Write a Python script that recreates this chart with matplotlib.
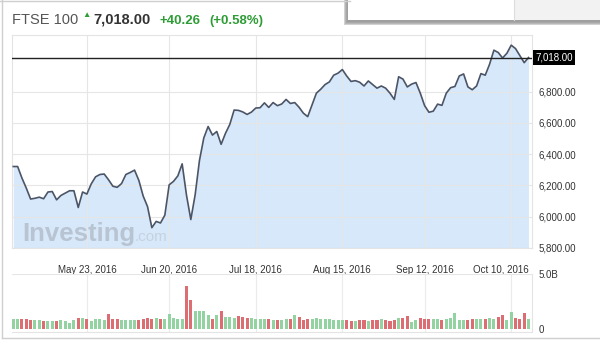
import numpy as np
import pandas as pd
import matplotlib
matplotlib.use("Agg")
import matplotlib.pyplot as plt
import matplotlib.transforms as mtransforms
from matplotlib.patches import Rectangle

plt.rcParams['font.family'] = ['Liberation Sans', 'DejaVu Sans']

# trading days (UK holidays removed)
days = pd.bdate_range('2016-04-27', '2016-10-14')
days = days.drop(pd.to_datetime(['2016-05-02', '2016-05-30', '2016-08-29']))

# FTSE 100 close
close = [6321, 6321, 6247, 6183, 6113, 6118, 6125, 6115, 6158, 6161,
         6108, 6136, 6151, 6166, 6166, 6059, 6158, 6145, 6210, 6255,
         6270, 6273, 6236, 6195, 6188, 6212, 6270, 6283, 6298, 6232,
         6132, 6065, 5930, 5970, 5960, 6010, 6204, 6226, 6261, 6338,
         6138, 5982, 6140, 6360, 6504, 6577, 6522, 6545, 6463, 6533,
         6590, 6682, 6680, 6670, 6654, 6669, 6695, 6697, 6728, 6699,
         6730, 6710, 6721, 6750, 6724, 6730, 6700, 6662, 6640, 6715,
         6790, 6815, 6845, 6862, 6905, 6918, 6941, 6900, 6865, 6870,
         6860, 6836, 6868, 6845, 6822, 6836, 6822, 6790, 6750, 6895,
         6880, 6830, 6848, 6858, 6790, 6710, 6668, 6675, 6720, 6712,
         6790, 6825, 6833, 6900, 6913, 6830, 6812, 6836, 6915, 6905,
         6975, 7065, 7050, 7015, 7045, 7097, 7075, 7030, 6985, 7018]

# volume in billions
volume = [0.88, 0.94, 0.94, 0.88, 0.82, 0.82, 0.82, 0.75, 0.72, 0.75,
          0.69, 0.78, 0.69, 0.55, 0.85, 0.97, 1.00, 0.88, 0.75, 0.90,
          0.90, 0.82, 1.40, 0.94, 0.94, 0.80, 0.80, 0.80, 0.80, 0.85,
          0.94, 1.00, 0.94, 1.00, 0.90, 0.94, 1.35, 1.00, 0.90, 0.94,
          3.90, 2.60, 1.67, 1.65, 1.67, 1.26, 0.88, 1.23, 1.67, 1.13,
          1.07, 1.04, 1.20, 1.10, 1.04, 0.97, 0.94, 0.88, 0.88, 0.91,
          0.82, 0.82, 0.82, 0.91, 0.91, 1.29, 1.07, 0.85, 0.88, 0.88,
          1.04, 0.94, 0.94, 0.88, 0.82, 0.85, 0.82, 0.79, 0.69, 0.75,
          0.79, 0.82, 0.75, 0.82, 0.79, 0.88, 0.82, 0.69, 0.82, 1.00,
          1.04, 1.16, 0.63, 0.82, 1.00, 0.88, 0.88, 0.91, 0.91, 0.82,
          0.94, 1.00, 1.45, 0.82, 0.82, 0.82, 0.88, 0.94, 0.91, 0.94,
          1.00, 0.94, 1.10, 1.23, 0.78, 1.54, 1.04, 0.88, 1.45, 0.91]

tick_dates = ['2016-05-23', '2016-06-20', '2016-07-18', '2016-08-15', '2016-09-12', '2016-10-10']
price_ticks = [5800, 6000, 6200, 6400, 6600, 6800]
last = 7018.00

x = np.arange(len(close))
tick_pos = [days.get_loc(pd.Timestamp(d)) for d in tick_dates]
tick_lab = [pd.Timestamp(d).strftime('%b %d, %Y').replace(' 0', ' ') for d in tick_dates]

fig = plt.figure(figsize=(6, 3.64), dpi=100)
W, H = 600, 364

def fx(px):
    return px / W

def fy(py):
    return 1 - py / H

# widget frame
grey = '#cfcfcf'
fig.add_artist(plt.Line2D([fx(2), fx(2)], [fy(0), fy(338)], color=grey, lw=1))
fig.add_artist(plt.Line2D([fx(2), fx(600)], [fy(338), fy(338)], color=grey, lw=1))
fig.add_artist(plt.Line2D([fx(0), fx(350)], [fy(1), fy(1)], color=grey, lw=1))
# popup box top right
for i, a in enumerate([0.05, 0.08, 0.12, 0.18]):
    fig.add_artist(Rectangle((fx(347 - i), fy(22 + i)), fx(260), fy(0) - fy(22 + i) + 0.01,
                             facecolor='black', alpha=a, edgecolor='none'))
fig.add_artist(Rectangle((fx(348), fy(20)), fx(260), fy(0) - fy(20) + 0.01,
                         facecolor='white', edgecolor='none'))
fig.add_artist(Rectangle((fx(514), fy(20)), fx(90), fy(0) - fy(20) + 0.01,
                         facecolor='#f2f2f2', edgecolor='none'))
fig.add_artist(plt.Line2D([fx(514), fx(514)], [fy(0), fy(20)], color='#dddddd', lw=0.8))

# header
fig.text(fx(12), fy(24), 'FTSE 100', fontsize=10.5, color='#555555', va='baseline')
fig.text(fx(82), fy(17), '\u25B2', fontsize=6, color='#2e9d36', va='baseline')
fig.text(fx(93), fy(24), '7,018.00', fontsize=10.5, color='#333333', fontweight='bold', va='baseline')
fig.text(fx(160), fy(24), '+40.26', fontsize=9.5, color='#2e9d36', fontweight='bold', va='baseline')
fig.text(fx(209), fy(24), '(+0.58%)', fontsize=9.5, color='#2e9d36', fontweight='bold', va='baseline')

# price panel
ax = fig.add_axes([fx(12), fy(248), fx(520), (248 - 35) / H])
ax.fill_between(x, close, 5800, color='#d6e8fa', lw=0, zorder=1)
ax.plot(x, close, color='#4b5567', lw=1.2, zorder=3)
ax.axhline(last, color='#222222', lw=1, zorder=4)
ax.set_xlim(-0.3, 119.8)
ax.set_ylim(5800, 7162)
ax.set_yticks(price_ticks)
ax.set_yticklabels([f'{v:,.2f}' for v in price_ticks])
ax.yaxis.tick_right()
ax.set_xticks(tick_pos)
ax.set_xticklabels(tick_lab)
ax.tick_params(axis='both', length=0, labelsize=7, labelcolor='#333333')
ax.tick_params(axis='y', pad=5)
ax.tick_params(axis='x', pad=12)
ax.grid(True, color='#e6e6e6', lw=0.8, zorder=2)
ax.set_axisbelow(False)
for s in ax.spines.values():
    s.set_color('#e4e4e4')
    s.set_linewidth(0.8)
lab = ax.get_xticklabels()[-1]
lab.set_transform(lab.get_transform() + mtransforms.ScaledTranslation(-0.1, 0, fig.dpi_scale_trans))

tr = mtransforms.blended_transform_factory(ax.transAxes, ax.transData)
ax.text(1.006, last, f'{last:,.2f}', transform=tr, fontsize=7, color='white', va='center', ha='left',
        bbox=dict(boxstyle='square,pad=0.25', facecolor='black', edgecolor='none'), zorder=6)

# watermark
fig.text(fx(22), fy(241), 'Investing', fontsize=18.5, fontweight='bold', color='#b9c4d2', va='baseline')
fig.text(fx(135), fy(241), '.com', fontsize=11, color='#c6d2e0', va='baseline')

# volume panel
vax = fig.add_axes([fx(12), fy(332), fx(520), (332 - 274) / H])
colors = ['#93d3a2'] + ['#93d3a2' if close[i] >= close[i - 1] else '#dc6d73' for i in range(1, len(close))]
vax.bar(x, volume, width=0.7, color=colors, zorder=3)
vax.set_xlim(-0.3, 119.8)
vax.set_ylim(-0.27, 5.0)
vax.set_yticks([0, 5.0])
vax.set_yticklabels(['0', '5.0B'])
vax.yaxis.tick_right()
vax.set_xticks(tick_pos)
vax.set_xticklabels([])
vax.tick_params(axis='both', length=0, labelsize=7, labelcolor='#333333')
vax.tick_params(axis='y', pad=5)
vax.grid(True, axis='x', color='#ebebeb', lw=0.8, zorder=1)
vax.axhline(5.0, color='#e6e6e6', lw=0.8)
for k, s in vax.spines.items():
    s.set_color('#e4e4e4')
    s.set_linewidth(0.8)
vax.spines['left'].set_visible(False)
vax.spines['top'].set_visible(False)

fig.savefig('out.png', dpi=100, facecolor='white')
